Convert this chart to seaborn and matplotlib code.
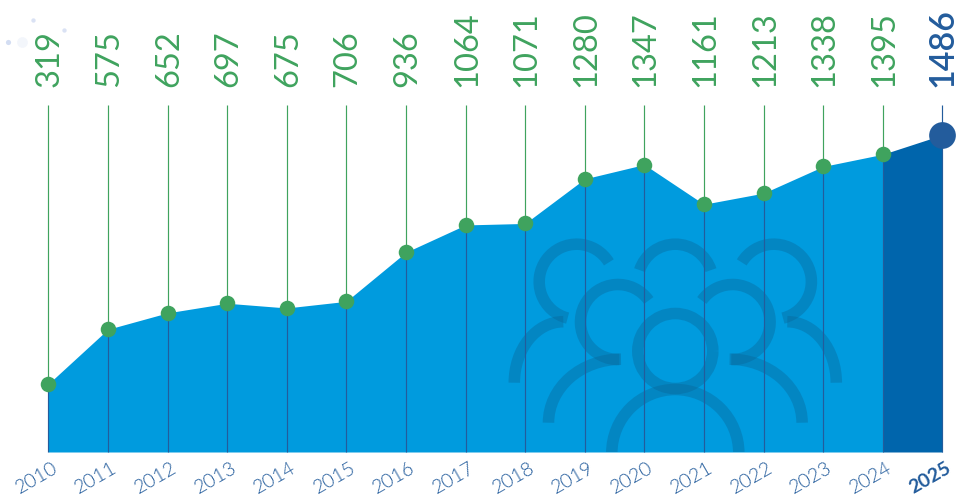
"""Yearly totals as a filled area chart with stems and rotated value labels."""

import matplotlib
import matplotlib.pyplot as plt
import pandas as pd
import seaborn as sns
from matplotlib.patches import Arc
from matplotlib.transforms import IdentityTransform, ScaledTranslation

matplotlib.use('Agg')

years = [2010, 2011, 2012, 2013, 2014, 2015, 2016, 2017, 2018, 2019, 2020, 2021, 2022, 2023, 2024, 2025]
values = [319, 575, 652, 697, 675, 706, 936, 1064, 1071, 1280, 1347, 1161, 1213, 1338, 1395, 1486]

GREEN = '#3FA35E'
NAVY = '#235C9C'
AREA = '#009BDE'
AREA_DARK = '#0065AC'
ICON = '#0A6496'

W, H = 957, 495
sns.set_theme(style='white')
plt.rcParams['font.family'] = ['Lato', 'DejaVu Sans']

df = pd.DataFrame({'year': years, 'value': values})

fig = plt.figure(figsize=(W / 100, H / 100), dpi=100)
# axes box in pixels: left 48.3, right 942.3, baseline 452, top of stems 105
ax = fig.add_axes([48.3 / W, (H - 452) / H, 894 / W, 347 / H])
ax.set_xlim(2010, 2025)
ax.set_ylim(0, 1626)
sns.despine(ax=ax, left=True, bottom=True)

# area, the last year in a darker blue
ax.fill_between(years[:-1], values[:-1], 0, color=AREA, lw=0, zorder=1)
ax.fill_between(years[-2:], values[-2:], 0, color=AREA_DARK, lw=0, zorder=1)


def arc(cx, cy, w, h, t1, t2):
    # pixel coordinates measured from the top left of the picture
    p = Arc((cx, H - cy), w, h, theta1=t1, theta2=t2, transform=IdentityTransform(),
            color=ICON, alpha=0.38, lw=8.3, zorder=2)
    ax.add_patch(p)
    p.set_clip_path(ax.patch)


# people icon behind the stems
mid = 675.3
arc(mid, 351, 75, 75, 0, 360)
arc(mid, 453, 127, 127, 0, 180)
arc(mid, 281.7, 75, 75, 18, 162)
for side in (-1, 1):
    def flip(t1, t2):
        return (t1, t2) if side < 0 else (180 - t2, 180 - t1)
    arc(mid + side * 57.3, 322, 75, 75, *flip(35, 272))
    arc(mid + side * 54.3, 422.7, 145, 127, *flip(90, 180))
    arc(mid + side * 98.6, 281.7, 75, 75, *flip(31, 256))
    arc(mid + side * 112, 382.7, 98, 122, *flip(90, 180))

# stems, navy inside the area and green above it
ax.vlines(years, 0, values, color=NAVY, lw=0.85, zorder=3, clip_on=False)
ax.vlines(years[:-1], values[:-1], 1626, color=GREEN, lw=0.85, zorder=3, clip_on=False)
ax.vlines(years[-1], values[-1], 1626, color=NAVY, lw=0.85, zorder=3, clip_on=False)

sns.scatterplot(data=df.iloc[:-1], x='year', y='value', color=GREEN, s=125, linewidth=0,
                ax=ax, clip_on=False, zorder=4, legend=False)
sns.scatterplot(data=df.iloc[-1:], x='year', y='value', color=NAVY, s=370, linewidth=0,
                ax=ax, clip_on=False, zorder=4, legend=False)

# value labels above the stems
for year, value in zip(years, values):
    last = year == years[-1]
    ax.annotate(str(value), (year, 1626), xytext=(0 if last else 1, 13), textcoords='offset points',
                rotation=90, ha='center', va='bottom', fontsize=24.5 if last else 23.5,
                color=NAVY if last else GREEN, fontweight=600 if last else 'normal',
                annotation_clip=False)

ax.set_xticks(years)
ax.set_xticklabels(years, rotation=30, ha='right', rotation_mode='anchor',
                   fontsize=14, color=NAVY, fontweight=300)
ax.get_xticklabels()[-1].set_fontweight('bold')
ax.tick_params(axis='x', length=0, pad=5)
ax.set_yticks([])
ax.set_xlabel('')
ax.set_ylabel('')

# labels end a little to the right of their stems
shift = ScaledTranslation(2.5 / 72, 0, fig.dpi_scale_trans)
for label in ax.get_xticklabels():
    label.set_transform(label.get_transform() + shift)

# faint specks in the top left corner of the picture
speck_x = [8, 33, 64, 22]
speck_y = [42, 20, 30, 42]
speck_s = [14, 10, 10, 60]
speck_a = [0.3, 0.25, 0.25, 0.08]
for sx, sy, ss, sa in zip(speck_x, speck_y, speck_s, speck_a):
    ax.scatter(sx, H - sy, s=ss, color='#6F8FD6', alpha=sa, linewidths=0,
               transform=IdentityTransform(), clip_on=False, zorder=0)

fig.savefig('out.png', dpi=100)
plt.close(fig)
